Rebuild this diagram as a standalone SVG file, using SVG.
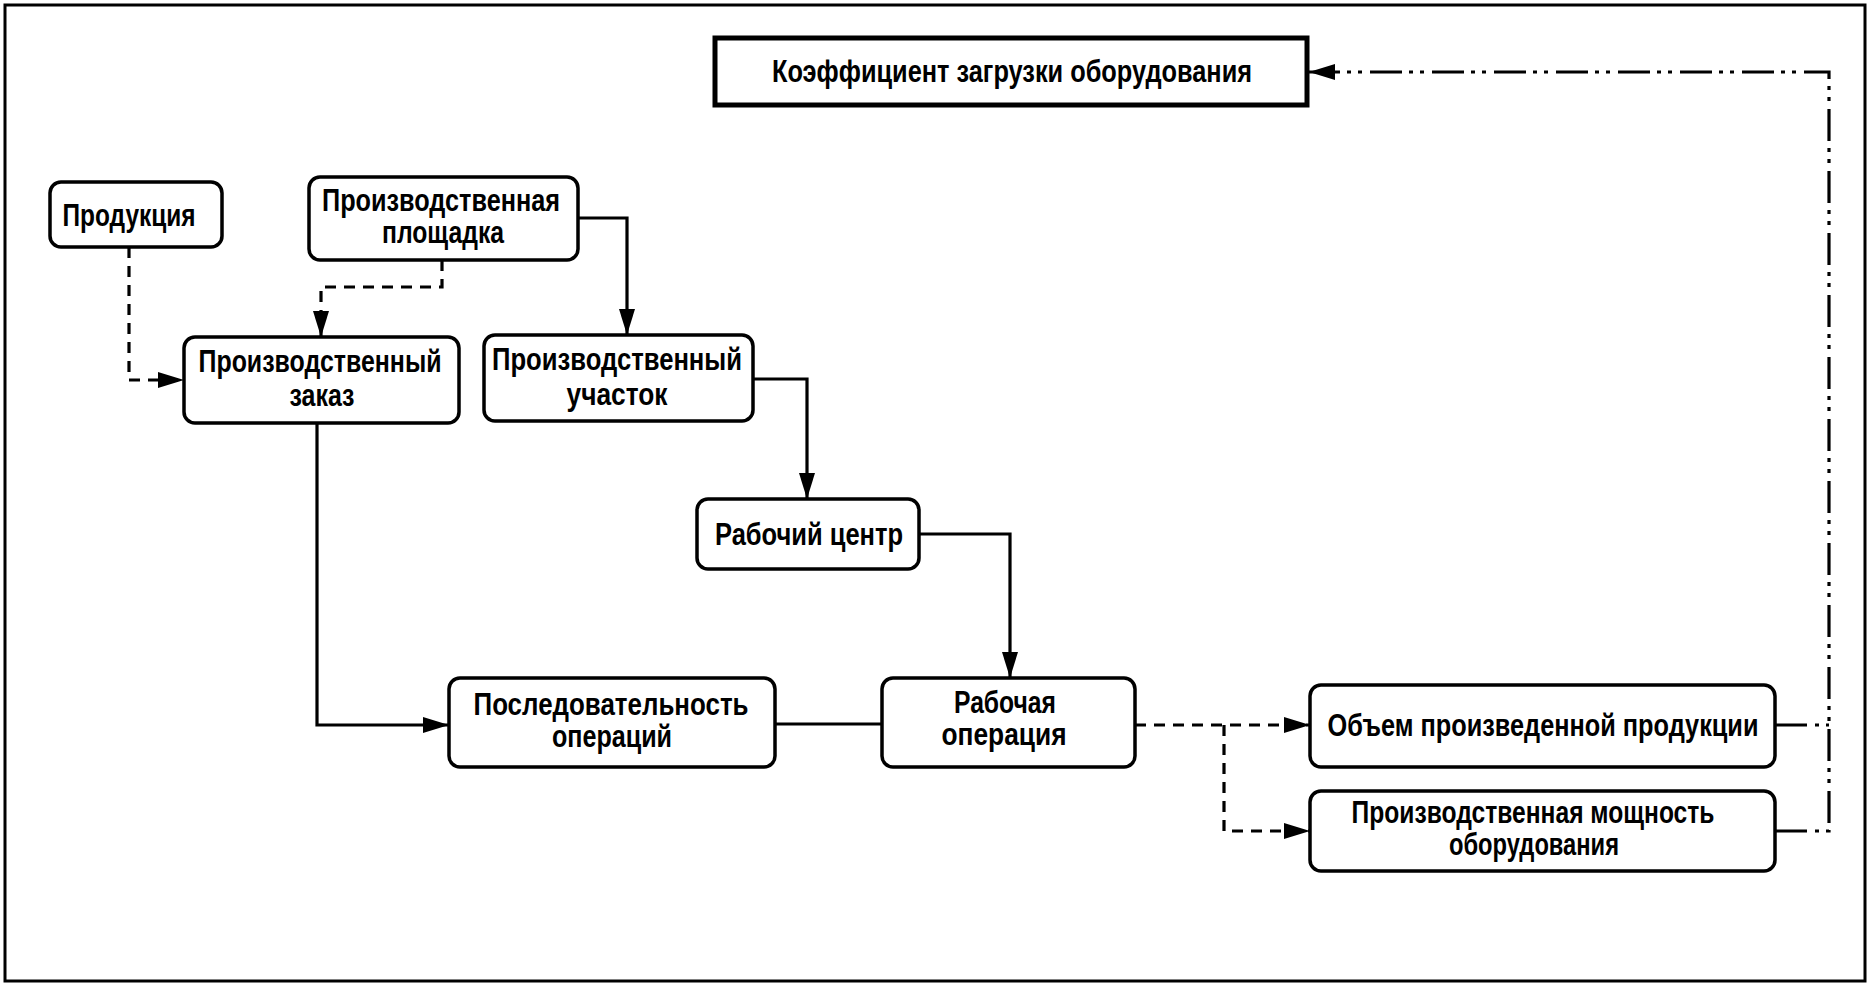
<svg xmlns="http://www.w3.org/2000/svg" width="1873" height="987" viewBox="0 0 1873 987">
<style>
.box{fill:#fff;stroke:#000;stroke-width:3.5}
.kbox{fill:#fff;stroke:#000;stroke-width:5}
.t{font-family:"Liberation Sans",Arial,sans-serif;font-weight:bold;font-size:31px;text-anchor:middle;fill:#000}
.c{fill:none;stroke:#000;stroke-width:3.2}
.dash{stroke-dasharray:11 8}
.dd{stroke-dasharray:32 8 4 7 4 7}
</style>
<defs>
<marker id="arr" markerUnits="userSpaceOnUse" markerWidth="26" markerHeight="16" refX="26" refY="8" orient="auto">
<path d="M0,0 L26,8 L0,16 z" fill="#000"/>
</marker>
</defs>
<rect x="5" y="5" width="1860" height="976" fill="#fff" stroke="#000" stroke-width="3"/>
<g id="connectors">
<path class="c dash" d="M129,247 V380 H184" marker-end="url(#arr)"/>
<path class="c dash" d="M442,260 V287 H321 V337" marker-end="url(#arr)"/>
<path class="c" d="M578,218 H627 V335" marker-end="url(#arr)"/>
<path class="c" d="M753,379 H807 V499" marker-end="url(#arr)"/>
<path class="c" d="M317,423 V725 H449" marker-end="url(#arr)"/>
<path class="c" d="M919,534 H1010 V678" marker-end="url(#arr)"/>
<path class="c" d="M775,724 H882"/>
<path class="c dash" d="M1135,725 H1310" marker-end="url(#arr)"/>
<path class="c dash" d="M1224,725 V831 H1310" marker-end="url(#arr)"/>
<path class="c dd" d="M1775,831 H1829 V72 H1309" marker-end="url(#arr)"/>
<path class="c dd" d="M1775,725 H1829"/>
</g>
<g id="koef">
<rect class="kbox" x="715" y="38" width="592" height="67"/>
<text class="t" x="1012" y="82" textLength="480" lengthAdjust="spacingAndGlyphs">Коэффициент загрузки оборудования</text>
</g>
<g id="produkciya">
<rect class="box" x="50" y="182" width="172" height="65" rx="11"/>
<text class="t" x="129" y="226" textLength="133" lengthAdjust="spacingAndGlyphs">Продукция</text>
</g>
<g id="ploshchadka">
<rect class="box" x="309" y="177" width="269" height="83" rx="11"/>
<text class="t" x="441" y="211" textLength="238" lengthAdjust="spacingAndGlyphs">Производственная</text>
<text class="t" x="443" y="243" textLength="122" lengthAdjust="spacingAndGlyphs">площадка</text>
</g>
<g id="zakaz">
<rect class="box" x="184" y="337" width="275" height="86" rx="11"/>
<text class="t" x="320" y="372" textLength="243" lengthAdjust="spacingAndGlyphs">Производственный</text>
<text class="t" x="322" y="406" textLength="65" lengthAdjust="spacingAndGlyphs">заказ</text>
</g>
<g id="uchastok">
<rect class="box" x="484" y="335" width="269" height="86" rx="11"/>
<text class="t" x="617" y="370" textLength="250" lengthAdjust="spacingAndGlyphs">Производственный</text>
<text class="t" x="617" y="405" textLength="101" lengthAdjust="spacingAndGlyphs">участок</text>
</g>
<g id="rabcentr">
<rect class="box" x="697" y="499" width="222" height="70" rx="11"/>
<text class="t" x="809" y="545" textLength="188" lengthAdjust="spacingAndGlyphs">Рабочий центр</text>
</g>
<g id="posled">
<rect class="box" x="449" y="678" width="326" height="89" rx="11"/>
<text class="t" x="611" y="715" textLength="275" lengthAdjust="spacingAndGlyphs">Последовательность</text>
<text class="t" x="612" y="747" textLength="120" lengthAdjust="spacingAndGlyphs">операций</text>
</g>
<g id="raboper">
<rect class="box" x="882" y="678" width="253" height="89" rx="11"/>
<text class="t" x="1005" y="713" textLength="102" lengthAdjust="spacingAndGlyphs">Рабочая</text>
<text class="t" x="1004" y="745" textLength="125" lengthAdjust="spacingAndGlyphs">операция</text>
</g>
<g id="obem">
<rect class="box" x="1310" y="685" width="465" height="82" rx="11"/>
<text class="t" x="1543" y="736" textLength="431" lengthAdjust="spacingAndGlyphs">Объем произведенной продукции</text>
</g>
<g id="moshchnost">
<rect class="box" x="1310" y="791" width="465" height="80" rx="11"/>
<text class="t" x="1533" y="823" textLength="363" lengthAdjust="spacingAndGlyphs">Производственная мощность</text>
<text class="t" x="1534" y="855" textLength="170" lengthAdjust="spacingAndGlyphs">оборудования</text>
</g>
</svg>
